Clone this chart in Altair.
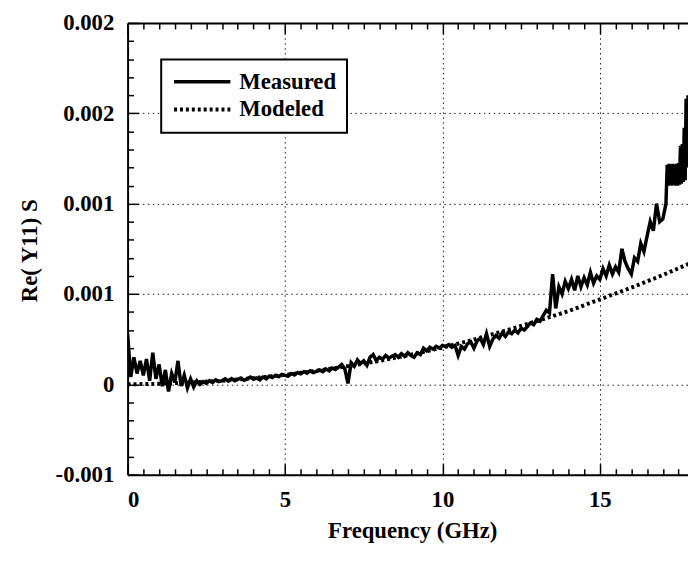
import altair as alt
import pandas as pd

# ---------------- data ----------------
# Measured Re(Y11), in micro-siemens, sampled every 0.1 GHz from 0.0 to 17.1 GHz
meas_freq = [round(i * 0.1, 1) for i in range(172)]
meas_uS = [
    280, 40, 150, 60, 130, 50, 140, 20, 175, 30,        # 0.0-0.9
    110, -10, 80, -40, 60, 10, 130, -10, 50, -20,       # 1.0-1.9
    30, -15, 20, 0, 15, 5, 20, 10, 25, 15,              # 2.0-2.9
    20, 30, 18, 32, 20, 28, 35, 22, 30, 40,             # 3.0-3.9
    28, 35, 25, 40, 30, 45, 38, 50, 42, 55,             # 4.0-4.9
    50, 45, 60, 52, 65, 58, 70, 62, 75, 65,             # 5.0-5.9
    72, 80, 70, 85, 75, 90, 82, 95, 110, 85,            # 6.0-6.9
    5, 120, 100, 135, 115, 130, 105, 150, 165, 130,     # 7.0-7.9
    150, 140, 160, 145, 155, 165, 150, 170, 155, 175,   # 8.0-8.9
    160, 150, 175, 165, 200, 185, 205, 195, 210, 200,   # 9.0-9.9
    215, 210, 220, 205, 215, 160, 210, 195, 225, 235,   # 10.0-10.9
    200, 240, 255, 220, 280, 210, 250, 270, 255, 285,   # 11.0-11.9
    265, 290, 280, 300, 285, 310, 300, 320, 340, 330,   # 12.0-12.9
    360, 350, 380, 410, 395, 610, 420, 540, 500, 570,   # 13.0-13.9
    530, 580, 520, 600, 540, 590, 550, 620, 560, 600,   # 14.0-14.9
    580, 640, 600, 660, 610, 650, 620, 750, 680, 640,   # 15.0-15.9
    610, 700, 680, 780, 735, 820, 900, 850, 1000, 900,  # 16.0-16.9
    915, 1000,                                          # 17.0-17.1
]
# Dense tail, where the measured trace oscillates quickly
tail_freq = [17.14, 17.17, 17.20, 17.23, 17.26, 17.29, 17.32, 17.35, 17.38, 17.41,
             17.44, 17.47, 17.50, 17.53, 17.56, 17.59, 17.62, 17.65, 17.68, 17.71,
             17.74, 17.77, 17.80]
tail_uS = [1215, 1100, 1220, 1105, 1215, 1100, 1220, 1105, 1215, 1100,
           1220, 1100, 1225, 1105, 1320, 1110, 1330, 1120, 1420, 1130,
           1580, 1200, 1600]

# Modeled Re(Y11), micro-siemens, every 1 GHz
model_freq = [0, 1, 2, 3, 4, 5, 6, 7, 8, 9, 10, 11, 12, 13, 14, 15, 16, 17, 18]
model_uS = [0, 3, 10, 20, 34, 52, 75, 101, 130, 164, 203, 248, 297, 350, 405, 470, 535, 605, 680]

series_names = ["Measured", "Modeled"]

# axis ticks / labels
x_major = [0, 5, 10, 15]
x_ticks = [i * 0.5 for i in range(36)]
y_major = [-0.0005, 0.0, 0.0005, 0.001, 0.0015, 0.002]
y_major_labels = ["-0.001", "0", "0.001", "0.001", "0.002", "0.002"]
y_ticks = [round(-0.0005 + i * 0.0001, 4) for i in range(26)]

rows = []
for f, v in zip(meas_freq + tail_freq, meas_uS + tail_uS):
    rows.append({"f": f, "v": v * 1e-6, "series": series_names[0]})
for f, v in zip(model_freq, model_uS):
    rows.append({"f": f, "v": v * 1e-6, "series": series_names[1]})
df = pd.DataFrame(rows)

W, H = 567, 457
FONT = "Liberation Serif"
FS = 23

xscale = alt.Scale(domain=[0, 17.8], nice=False, zero=False)
yscale = alt.Scale(domain=[-0.0005, 0.002], nice=False, zero=False)

y_label_expr = "[" + ",".join("'%s'" % s for s in y_major_labels) + "][round(datum.value*2000)+1]"
x_tick_size = {"condition": {"test": "abs(datum.value % 5) < 0.001", "value": 11}, "value": 6}
y_tick_size = {"condition": {"test": "abs(datum.value*2000 - round(datum.value*2000)) < 0.001", "value": 11}, "value": 6}

# main layer: data lines, labelled axes, grid, legend
main = alt.Chart(df).mark_line(clip=True, color="black").encode(
    x=alt.X("f:Q", scale=xscale,
            axis=alt.Axis(orient="bottom", values=x_major, format="d",
                          title="Frequency (GHz)", grid=True, ticks=False,
                          labelPadding=14, domainWidth=2,
                          titleX=288, titleY=64, titleBaseline="alphabetic")),
    y=alt.Y("v:Q", scale=yscale,
            axis=alt.Axis(orient="left", values=y_major, labelExpr=y_label_expr,
                          title="Re( Y11) S", grid=True, ticks=False,
                          labelPadding=14, domainWidth=2,
                          titleAngle=270, titleX=-92, titleY=230,
                          titleBaseline="alphabetic", titleAlign="center")),
    strokeDash=alt.StrokeDash(
        "series:N",
        scale=alt.Scale(domain=series_names, range=[[1, 0], [3, 3]]),
        legend=alt.Legend(title=None, orient="none", legendX=34, legendY=37,
                          symbolType="M-3,0H3", symbolSize=361,
                          symbolStrokeWidth=2.5, symbolStrokeColor="black",
                          symbolOffset=19, labelOffset=26,
                          labelFont=FONT, labelFontSize=FS, labelFontWeight="bold",
                          labelColor="black", fillColor="white",
                          strokeColor="black", padding=11, rowPadding=4),
    ),
    strokeWidth=alt.StrokeWidth("series:N",
                                scale=alt.Scale(domain=series_names, range=[3.5, 4]),
                                legend=None),
)

# invisible layer carrying inward ticks at bottom and left
ticks_bl = alt.Chart(df).mark_line(clip=True, opacity=0).encode(
    x=alt.X("f:Q", scale=xscale,
            axis=alt.Axis(orient="top", offset=-H, values=x_ticks, labels=False,
                          domain=False, grid=False, title=None,
                          tickSize=x_tick_size, tickWidth=1.5)),
    y=alt.Y("v:Q", scale=yscale,
            axis=alt.Axis(orient="right", offset=-W, values=y_ticks, labels=False,
                          domain=False, grid=False, title=None,
                          tickSize=y_tick_size, tickWidth=1.5)),
    detail="series:N",
)

# invisible layer carrying the top border and its inward ticks
ticks_top = alt.Chart(df).mark_line(clip=True, opacity=0).encode(
    x=alt.X("f:Q", scale=xscale,
            axis=alt.Axis(orient="bottom", offset=-H, values=x_ticks, labels=False,
                          domain=True, domainWidth=2, grid=False, title=None,
                          tickSize=x_tick_size, tickWidth=1.5)),
    y=alt.Y("v:Q", scale=yscale, axis=None),
    detail="series:N",
)

chart = alt.layer(main, ticks_bl, ticks_top).resolve_axis(
    x="independent", y="independent"
).properties(
    width=W, height=H,
    padding={"left": 121, "top": 12, "right": 0, "bottom": 68},
    autosize=alt.AutoSizeParams(type="none"),
    background="white",
).configure_view(
    stroke=None
).configure_axis(
    labelFont=FONT, titleFont=FONT,
    labelFontSize=FS, titleFontSize=FS,
    labelFontWeight="bold", titleFontWeight="bold",
    labelColor="black", titleColor="black",
    domainColor="black", tickColor="black",
    gridColor="black", gridDash=[1.5, 3.5], gridWidth=1, gridOpacity=0.9,
).configure_legend(
    strokeWidth=2
)

chart.save("out.html", embed_options={"renderer": "svg", "actions": False})
